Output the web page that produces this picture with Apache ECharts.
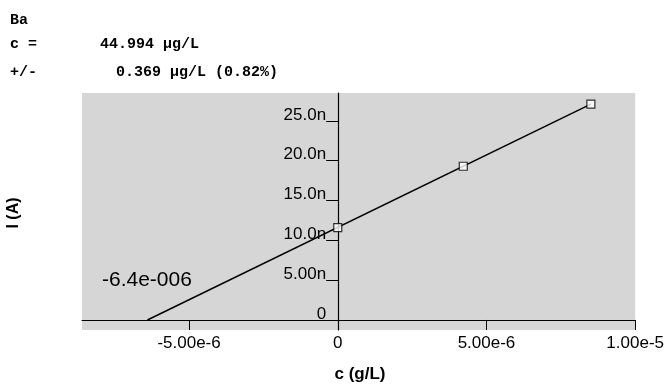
<!DOCTYPE html>
<html>
<head>
<meta charset="utf-8">
<script src="https://cdn.jsdelivr.net/npm/echarts@6/dist/echarts.min.js"></script>
<style>
html, body { margin: 0; padding: 0; background: #fff; }
#chart { width: 667px; height: 385px; }
</style>
</head>
<body>
<div id="chart"></div>
<script>
// standard addition points: added c (g/L) and current I (nA)
var addedConc = [0, 4.22e-6, 8.51e-6]
var current = [11.6, 19.3, 27.1]
// regression line, from x intercept up to the last point
var fitX = [-6.4e-6, 8.51e-6]
var fitY = [0, 27.1]
// ticks and their labels
var xTicks = [-5e-6, 0, 5e-6, 1e-5]
var xLabels = ['-5.00e-6', '0', '5.00e-6', '1.00e-5']
var yTicks = [0, 5, 10, 15, 20, 25]
var yLabels = ['0', '5.00n', '10.0n', '15.0n', '20.0n', '25.0n']

function pick(ticks, labels, v) {
  for (var i = 0; i < ticks.length; i++) {
    if (Math.abs(ticks[i] - v) < Math.abs(ticks[1] - ticks[0]) * 1e-3) return labels[i]
  }
  return ''
}

var myChart = echarts.init(document.getElementById('chart'))
var sans = 'Liberation Sans, Arial, sans-serif'
var mono = 'Liberation Mono, Courier New, monospace'

var xMin = -8.6e-6
var xMax = 1e-5
var gridLeft = 82
var gridRight = 31
// move the y axis from the grid's left edge to c = 0
var yAxisShift = -(0 - xMin) / (xMax - xMin) * (667 - gridLeft - gridRight)

var option = {
  animation: false,
  backgroundColor: '#fff',
  grid: {
    left: gridLeft,
    right: gridRight,
    top: 93,
    bottom: 55,
    show: true,
    backgroundColor: '#d6d6d6',
    borderWidth: 0
  },
  xAxis: {
    type: 'value',
    min: xMin,
    max: xMax,
    axisLine: { onZero: true, lineStyle: { color: '#000', width: 1.2 } },
    axisTick: { customValues: xTicks, length: 10, lineStyle: { color: '#000' } },
    axisLabel: {
      customValues: xTicks,
      margin: 5,
      color: '#000',
      fontFamily: sans,
      fontSize: 17,
      formatter: function (v) { return pick(xTicks, xLabels, v) }
    },
    splitLine: { show: false }
  },
  yAxis: {
    type: 'value',
    min: -1.26,
    max: 28.5,
    position: 'left',
    offset: yAxisShift,
    axisLine: { show: true, onZero: false, lineStyle: { color: '#000', width: 1.2 } },
    axisTick: { customValues: yTicks, length: 12, lineStyle: { color: '#000' } },
    axisLabel: {
      customValues: yTicks,
      margin: 12,
      color: '#000',
      fontFamily: sans,
      fontSize: 17,
      lineHeight: 12,
      verticalAlign: 'bottom',
      formatter: function (v) { return pick(yTicks, yLabels, v) }
    },
    splitLine: { show: false }
  },
  series: [
    {
      type: 'line',
      data: fitX.map(function (x, i) { return [x, fitY[i]] }),
      symbol: 'none',
      lineStyle: { color: '#000', width: 1.5 },
      z: 2
    },
    {
      type: 'scatter',
      data: addedConc.map(function (x, i) { return [x, current[i]] }),
      symbol: 'rect',
      symbolSize: 8,
      itemStyle: { color: '#fff', borderColor: '#000', borderWidth: 1.2 },
      z: 3
    }
  ],
  graphic: [
    { type: 'text', left: 10, top: 13, style: { text: 'Ba', font: 'bold 15px ' + mono, fill: '#000' } },
    { type: 'text', left: 10, top: 37, style: { text: 'c =', font: 'bold 15px ' + mono, fill: '#000' } },
    { type: 'text', left: 100, top: 37, style: { text: '44.994 µg/L', font: 'bold 15px ' + mono, fill: '#000' } },
    { type: 'text', left: 10, top: 65, style: { text: '+/-', font: 'bold 15px ' + mono, fill: '#000' } },
    { type: 'text', left: 116, top: 65, style: { text: '0.369 µg/L (0.82%)', font: 'bold 15px ' + mono, fill: '#000' } },
    { type: 'text', left: 102, top: 270, style: { text: '-6.4e-006', font: '21px ' + sans, fill: '#000' } },
    {
      type: 'text', x: 14, y: 213, rotation: Math.PI / 2,
      style: { text: 'I (A)', font: 'bold 16px ' + sans, fill: '#000', align: 'center', verticalAlign: 'middle' }
    },
    {
      type: 'text', x: 360, y: 374,
      style: { text: 'c (g/L)', font: 'bold 17px ' + sans, fill: '#000', align: 'center', verticalAlign: 'middle' }
    }
  ]
}

myChart.setOption(option)
</script>
</body>
</html>
